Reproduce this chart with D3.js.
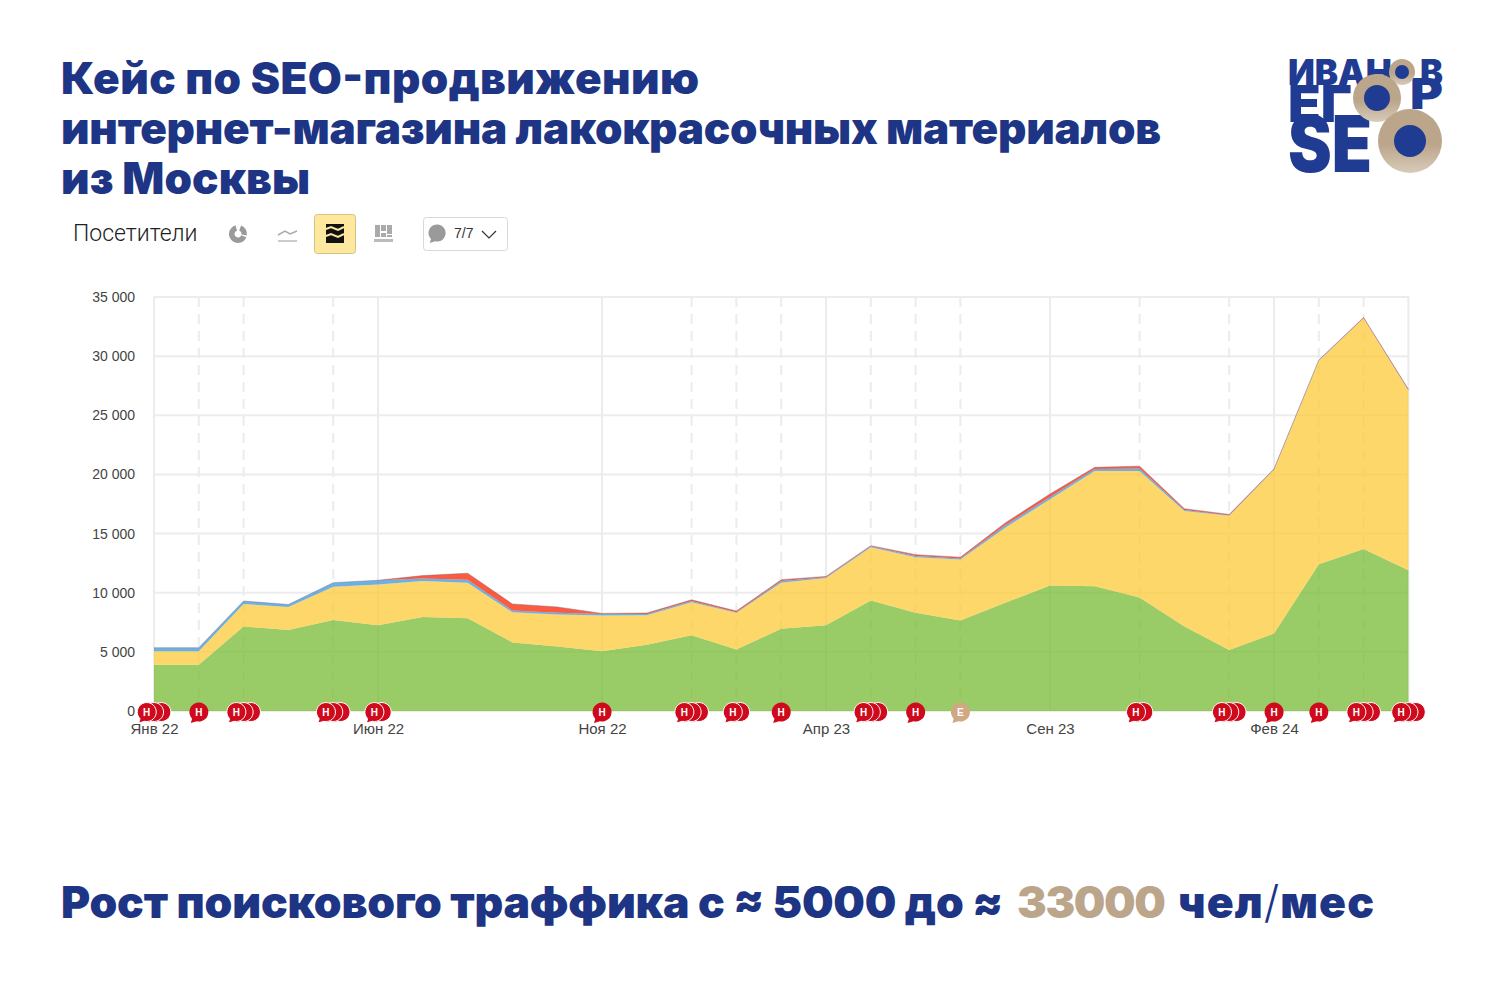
<!DOCTYPE html>
<html>
<head>
<meta charset="utf-8">
<script src="https://cdn.jsdelivr.net/npm/d3@7"></script>
<style>
body { margin: 0; background: #fff; }
svg { display: block; }
.head { font-family: Inter, sans-serif; font-weight: 900; fill: #1d3584; }
.tick text { font-family: "Liberation Sans", Arial, sans-serif; font-size: 14px; fill: #444; }
</style>
</head>
<body>
<svg id="chart" width="1500" height="1000"></svg>
<script>
// months on the axis, one point per month
var months = ["Янв 22","Фев 22","Мар 22","Апр 22","Май 22","Июн 22","Июл 22","Авг 22","Сен 22","Окт 22","Ноя 22","Дек 22",
  "Янв 23","Фев 23","Мар 23","Апр 23","Май 23","Июн 23","Июл 23","Авг 23","Сен 23","Окт 23","Ноя 23","Дек 23",
  "Янв 24","Фев 24","Мар 24","Апр 24","Май 24"];
var xLabels = ["Янв 22","Июн 22","Ноя 22","Апр 23","Сен 23","Фев 24"];
var yTicks = [0,5000,10000,15000,20000,25000,30000,35000];

// visitors per source
var green = [3900,3900,7150,6850,7700,7250,7950,7850,5800,5450,5050,5600,6400,5200,6950,7250,9350,8300,7650,9150,10600,10550,9600,7150,5150,6550,12400,13700,11900];
var yellow = [1150,1150,1900,1950,2800,3450,3050,3000,2550,2700,3030,2500,2800,3100,3900,4000,4500,4700,5150,6350,7300,9750,10700,9750,11350,13850,17200,19500,15200];
var blue = [300,300,250,200,350,350,200,250,150,150,120,100,100,50,150,50,70,100,100,200,200,150,200,100,50,30,50,30,30];
var red = [0,0,0,0,0,0,250,550,550,500,50,80,100,100,100,80,60,120,100,200,250,150,200,100,70,40,20,40,70];

// comment bubbles under the axis: month, how many are stacked, letter
var noteMonths = [0,1,2,4,5,10,12,13,14,16,17,18,22,24,25,26,27,28];
var noteCounts = [3,1,3,3,2,1,3,2,1,3,1,1,2,3,1,1,3,3];
var noteLetters = ["Н","Н","Н","Н","Н","Н","Н","Н","Н","Н","Н","Е","Н","Н","Н","Н","Н","Н"];
// months that have a dashed line
var dashedMonths = [1,2,4,12,13,14,16,17,18,22,24,26,27];

var svg = d3.select("#chart");

var x = d3.scalePoint().domain(months).range([154, 1408.4]);
var y = d3.scaleLinear().domain([0, 35000]).range([711, 297]);

// title, widths fitted to the original lines
var titleLines = ["Кейс по SEO-продвижению", "интернет-магазина лакокрасочных материалов", "из Москвы"];
var titleWidths = [638, 1100, 249];
svg.append("g").selectAll("text")
  .data(titleLines)
  .enter()
  .append("text")
  .attr("class", "head")
  .attr("x", 61)
  .attr("y", function(d, i) { return 94 + i * 50; })
  .attr("textLength", function(d, i) { return titleWidths[i]; })
  .style("font-size", "44px")
  .text(function(d) { return d; });

// grid
var grid = svg.append("g").attr("stroke", "#ececec").attr("stroke-width", 2);
grid.selectAll(".h")
  .data(yTicks)
  .enter()
  .append("line")
  .attr("x1", 154).attr("x2", 1409)
  .attr("y1", function(d) { return y(d); })
  .attr("y2", function(d) { return y(d); });
grid.selectAll(".v")
  .data(xLabels.concat(["Май 24"]))
  .enter()
  .append("line")
  .attr("x1", function(d) { return x(d); })
  .attr("x2", function(d) { return x(d); })
  .attr("y1", y(35000)).attr("y2", y(0));
grid.selectAll(".d")
  .data(dashedMonths)
  .enter()
  .append("line")
  .attr("stroke-dasharray", "10,7")
  .attr("x1", function(d) { return x(months[d]); })
  .attr("x2", function(d) { return x(months[d]); })
  .attr("y1", y(35000)).attr("y2", y(0));

// stacked areas, see-through so the grid shows in them
var rows = months.map(function(m, i) {
  return {month: m, green: green[i], yellow: yellow[i], blue: blue[i], red: red[i]};
});
var keys = ["green","yellow","blue","red"];
var colors = {green: "#77ba34", yellow: "#fcca38", blue: "#3c96de", red: "#fa2400"};
var stack = d3.stack().keys(keys)(rows);
var area = d3.area()
  .x(function(d) { return x(d.data.month); })
  .y0(function(d) { return y(d[0]); })
  .y1(function(d) { return y(d[1]); });

svg.append("g").selectAll("path")
  .data(stack)
  .enter()
  .append("path")
  .attr("d", area)
  .attr("fill", function(d) { return colors[d.key]; })
  .attr("fill-opacity", 0.75);

// thin dark edge on top of the stack
svg.append("path")
  .attr("d", d3.line()
    .x(function(d) { return x(d.data.month); })
    .y(function(d) { return y(d[1]); })(stack[3]))
  .attr("fill", "none")
  .attr("stroke", "#7a6a78")
  .attr("stroke-opacity", 0.55)
  .attr("stroke-width", 0.8);

// axes
var yAxis = d3.axisLeft(y).tickValues(yTicks).tickSize(0).tickPadding(0)
  .tickFormat(function(d) { return d3.format(",")(d).replace(",", " "); });
svg.append("g").attr("transform", "translate(135,0)").call(yAxis)
  .call(function(g) { g.select(".domain").remove(); })
  .selectAll("text").attr("dy", "0.32em");
var xAxis = d3.axisBottom(x).tickValues(xLabels).tickSize(0).tickPadding(0);
svg.append("g").attr("transform", "translate(0,723)").call(xAxis)
  .call(function(g) { g.select(".domain").remove(); })
  .selectAll("text").attr("dy", "0.75em").style("font-size", "15px");

// comment bubbles
var bubble = "M-6.7,6.7 A9.5,9.5 0 1 1 -2,9.3 L-8,11 Z";
var noteStep = 7.3;
var notes = svg.append("g").attr("transform", "translate(0,712)");
noteMonths.forEach(function(m, i) {
  var n = noteCounts[i];
  var cx = x(months[m]);
  var fill = noteLetters[i] === "Е" ? "#cfa884" : "#cf0a1c";
  for (var k = n - 1; k >= 0; k--) {
    var off = (k - (n - 1) / 2) * noteStep;
    notes.append("path")
      .attr("d", bubble)
      .attr("transform", "translate(" + (cx + off) + ",0)")
      .attr("fill", fill)
      .attr("stroke", "#fff")
      .attr("stroke-width", n === 1 ? 0 : 1);
  }
  notes.append("text")
    .attr("x", cx - (n - 1) / 2 * noteStep)
    .attr("y", 3.6)
    .attr("text-anchor", "middle")
    .attr("fill", "#fff")
    .style("font-family", "'Liberation Sans', Arial, sans-serif")
    .style("font-weight", "700")
    .style("font-size", "10px")
    .text(noteLetters[i]);
});

// toolbar above the chart
var bar = svg.append("g");
bar.append("text").attr("x", 73).attr("y", 241)
  .attr("fill", "#222")
  .style("font-family", "Roboto, sans-serif")
  .style("font-size", "23px")
  .style("font-weight", "300")
  .text("Посетители");

// pie icon
var pieArc = d3.arc().innerRadius(3.5).outerRadius(9);
bar.append("g").attr("transform", "translate(238,234)").selectAll("path")
  .data([[0.35, 1.75], [1.95, 6.0]])
  .enter()
  .append("path")
  .attr("d", function(d) { return pieArc({startAngle: d[0], endAngle: d[1]}); })
  .attr("fill", "#9a9a9a");

// line icon
bar.append("path").attr("d", "M278,235 L285,231 L290,234 L297,231").attr("fill", "none").attr("stroke", "#aaa").attr("stroke-width", 1.5);
bar.append("line").attr("x1", 278).attr("x2", 297).attr("y1", 241).attr("y2", 241).attr("stroke", "#bbb").attr("stroke-width", 1.5);

// selected button with the stack icon
bar.append("rect").attr("x", 314.5).attr("y", 214.5).attr("width", 41).attr("height", 39).attr("rx", 3)
  .attr("fill", "#fee89f").attr("stroke", "#d6c27c");
bar.append("rect").attr("x", 326).attr("y", 224).attr("width", 18).attr("height", 19).attr("fill", "#111");
[229, 236].forEach(function(yy) {
  bar.append("path").attr("d", "M326," + yy + " L331," + (yy - 2) + " L338," + (yy + 1) + " L344," + (yy - 2))
    .attr("fill", "none").attr("stroke", "#fee89f").attr("stroke-width", 2);
});

// column icon
[[375, 225, 5, 12], [381, 225, 5, 6], [381, 233, 5, 4], [387, 225, 5, 9], [387, 235, 5, 2]].forEach(function(r) {
  bar.append("rect").attr("x", r[0]).attr("y", r[1]).attr("width", r[2]).attr("height", r[3]).attr("fill", "#aaa");
});
bar.append("rect").attr("x", 374).attr("y", 239).attr("width", 19).attr("height", 3).attr("fill", "#bbb");

// comments dropdown
bar.append("rect").attr("x", 423.5).attr("y", 217.5).attr("width", 84).attr("height", 33).attr("rx", 3)
  .attr("fill", "#fff").attr("stroke", "#d8d8d8");
bar.append("path").attr("d", bubble).attr("transform", "translate(437,233) scale(0.9)").attr("fill", "#9a9a9a");
bar.append("text").attr("x", 454).attr("y", 238).attr("fill", "#333")
  .style("font-family", "'Liberation Sans', Arial, sans-serif").style("font-size", "14px").text("7/7");
bar.append("path").attr("d", "M482,231 L489,238 L496,231").attr("fill", "none").attr("stroke", "#333").attr("stroke-width", 1.2);

// footer line, three pieces fitted to the original
svg.append("text").attr("class", "head").attr("x", 61).attr("y", 918)
  .attr("textLength", 942).style("font-size", "44.5px")
  .text("Рост поискового траффика с ≈ 5000 до ≈");
svg.append("text").attr("class", "head").attr("x", 1017).attr("y", 918)
  .attr("textLength", 149).style("font-size", "44.5px").style("fill", "#bba58b")
  .text("33000");
var footer = svg.append("text").attr("class", "head").attr("x", 1178).attr("y", 918)
  .attr("textLength", 196).style("font-size", "44.5px");
footer.append("tspan").text("чел");
footer.append("tspan").style("font-weight", "300").text("/");
footer.append("tspan").text("мес");

// logo
var logoBlue = "#1f3b92", logoTan = "#bba58b";
var defs = svg.append("defs");
var ringFade = defs.append("linearGradient").attr("id", "ringFade").attr("x1", 0).attr("x2", 0).attr("y1", 0).attr("y2", 1);
ringFade.append("stop").attr("offset", "55%").attr("stop-color", logoTan);
ringFade.append("stop").attr("offset", "100%").attr("stop-color", "#d8cbb9");

var logo = svg.append("g").attr("fill", logoBlue)
  .style("font-family", "Inter, sans-serif").style("font-weight", "900");
var logoText = [
  ["ИВАН", 1288, 85, 35, 104],
  ["В", 1420, 85, 35, 23],
  ["ЕГ", 1288, 122, 51, 64],
  ["Р", 1410, 109, 42, 33],
  ["SE", 1288, 172, 78, 84]
];
logo.selectAll("text")
  .data(logoText)
  .enter()
  .append("text")
  .attr("x", function(d) { return d[1]; })
  .attr("y", function(d) { return d[2]; })
  .attr("textLength", function(d) { return d[4]; })
  .attr("lengthAdjust", "spacingAndGlyphs")
  .style("font-size", function(d) { return d[3] + "px"; })
  .text(function(d) { return d[0]; });
var rings = [[1402, 72, 13, 7], [1377, 98, 24, 13], [1410, 141, 32, 16]];
rings.forEach(function(r) {
  logo.append("circle").attr("cx", r[0]).attr("cy", r[1]).attr("r", r[2]).attr("fill", "url(#ringFade)");
  logo.append("circle").attr("cx", r[0]).attr("cy", r[1]).attr("r", r[3]).attr("fill", logoBlue);
});
</script>
</body>
</html>
